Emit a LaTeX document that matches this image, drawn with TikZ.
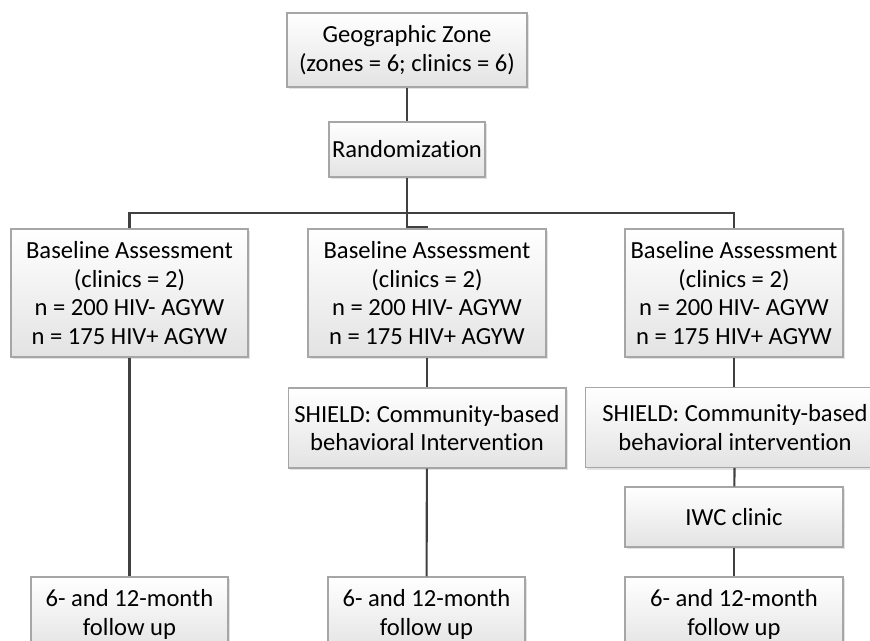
\documentclass[tikz,border=0pt]{standalone}
\usepackage{fontspec}
\setmainfont{Carlito}[Ligatures={NoCommon}]
\usepackage{tikz}
\usetikzlibrary{shadows}

\tikzset{
  stage/.style={draw=black!35, top color=white, bottom color=black!11, align=center,
    inner sep=0pt, line width=0.6pt,
    drop shadow={opacity=0.22, shadow xshift=1.2pt, shadow yshift=-1.2pt}},
  link/.style={draw=black!75, line width=1.2pt}
}

\begin{document}
\begin{tikzpicture}[x=0.02cm,y=-0.02cm]
\fontsize{14}{16.3}\selectfont
\useasboundingbox (0,0) rectangle (870,641);

\node[stage, minimum width=4.8cm, minimum height=1.48cm] (zone) at (407,50) {Geographic Zone\\(zones = 6; clinics = 6)};
\node[stage, minimum width=3.12cm, minimum height=1.1cm] (rand) at (407,149.5) {Randomization};

\node[stage, minimum width=4.74cm, minimum height=2.56cm] (base1) at (129.5,293) {Baseline Assessment\\(clinics = 2)\\n = 200 HIV- AGYW\\n = 175 HIV+ AGYW};
\node[stage, minimum width=4.76cm, minimum height=2.56cm] (base2) at (427,293) {Baseline Assessment\\(clinics = 2)\\n = 200 HIV- AGYW\\n = 175 HIV+ AGYW};
\node[stage, minimum width=4.36cm, minimum height=2.56cm] (base3) at (734,293) {Baseline Assessment\\(clinics = 2)\\n = 200 HIV- AGYW\\n = 175 HIV+ AGYW};

\node[stage, minimum width=5.56cm, minimum height=1.6cm] (shield2) at (427,428) {SHIELD: Community-based\\behavioral Intervention};
\node[stage, minimum width=6cm, minimum height=1.6cm] (shield3) at (735,427.5) {SHIELD: Community-based\\behavioral intervention};
\node[stage, minimum width=4.36cm, minimum height=1.2cm] (iwc) at (734,517) {IWC clinic};

\node[stage, minimum width=3.94cm, minimum height=1.5cm] (follow1) at (129.5,614.5) {6- and 12-month\\follow up};
\node[stage, minimum width=3.94cm, minimum height=1.5cm] (follow2) at (426.5,614.5) {6- and 12-month\\follow up};
\node[stage, minimum width=4.36cm, minimum height=1.5cm] (follow3) at (734,614.5) {6- and 12-month\\follow up};

% arms
\coordinate (split) at (407,213);
\coordinate (bend) at (407,227);
\draw[link] (zone) -- (rand);
\draw[link] (rand) -- (split);
\draw[link] (base1.north) |- (split) -| (base3.north);
\draw[link] (split) -- (bend) -| (base2.north);

\draw[link] (base1) -- (follow1);
\draw[link] (base2) -- (shield2);
\draw[link] (shield2) -- (follow2);
\draw[link] (base3) -- (shield3.north -| base3.south);
\draw[link] (shield3) -- (iwc);
\draw[link] (iwc) -- (follow3);
\end{tikzpicture}
\end{document}
